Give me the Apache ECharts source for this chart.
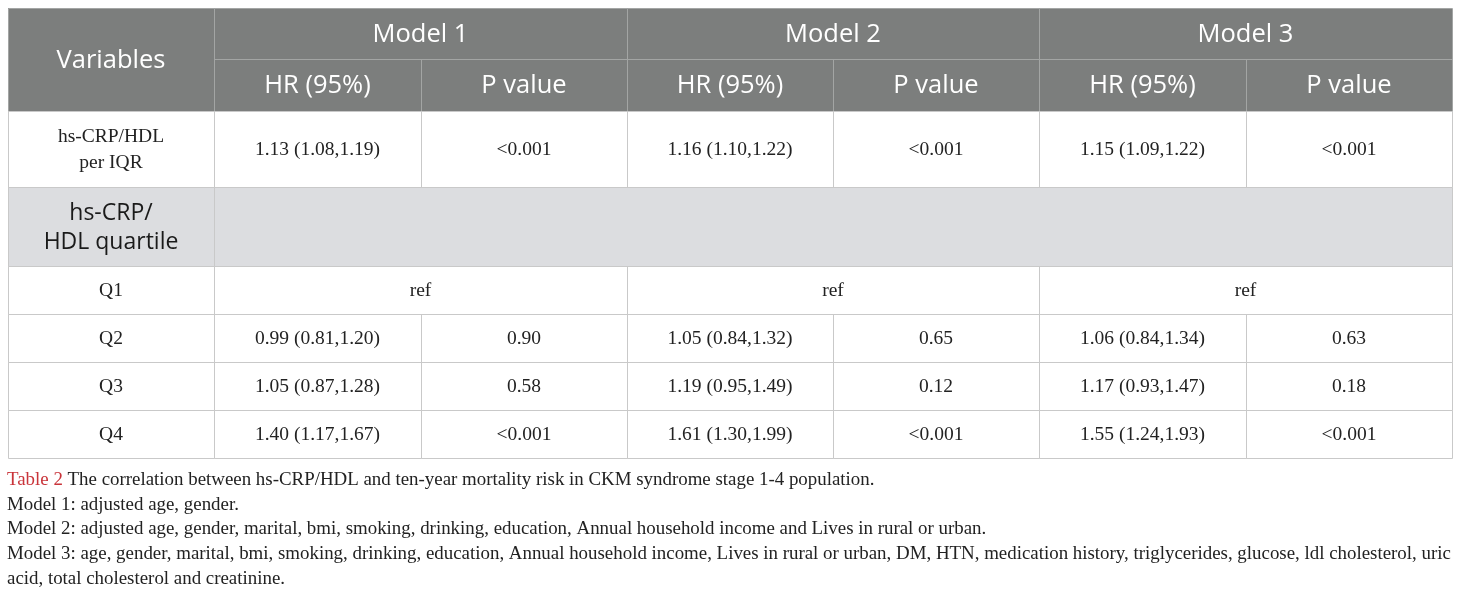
<!DOCTYPE html>
<html>
<head>
<meta charset="utf-8">
<script src="https://cdn.jsdelivr.net/npm/echarts@6/dist/echarts.min.js"></script>
<style>
html,body{margin:0;padding:0;background:#fff;}
#chart{width:1460px;height:593px;}
</style>
</head>
<body>
<div id="chart"></div>
<script>
// ---------- data ----------
const variableHeader = 'Variables';
const modelNames = ['Model 1', 'Model 2', 'Model 3'];
const statHeaders = ['HR (95%)', 'P value'];
const continuousLabel = 'hs-CRP/HDL\nper IQR';
const continuousHR = ['1.13 (1.08,1.19)', '1.16 (1.10,1.22)', '1.15 (1.09,1.22)'];
const continuousP = ['<0.001', '<0.001', '<0.001'];
const quartileSection = 'hs-CRP/\nHDL quartile';
const quartileLabels = ['Q1', 'Q2', 'Q3', 'Q4'];
const referenceLabel = 'ref';
const model1HR = ['0.99 (0.81,1.20)', '1.05 (0.87,1.28)', '1.40 (1.17,1.67)'];
const model1P = ['0.90', '0.58', '<0.001'];
const model2HR = ['1.05 (0.84,1.32)', '1.19 (0.95,1.49)', '1.61 (1.30,1.99)'];
const model2P = ['0.65', '0.12', '<0.001'];
const model3HR = ['1.06 (0.84,1.34)', '1.17 (0.93,1.47)', '1.55 (1.24,1.93)'];
const model3P = ['0.63', '0.18', '<0.001'];
const captionLabel = 'Table 2';
const captionLines = [
  ' The correlation between hs-CRP/HDL and ten-year mortality risk in CKM syndrome stage 1-4 population.',
  'Model 1: adjusted age, gender.',
  'Model 2: adjusted age, gender, marital, bmi, smoking, drinking, education, Annual household income and Lives in rural or urban.',
  'Model 3: age, gender, marital, bmi, smoking, drinking, education, Annual household income, Lives in rural or urban, DM, HTN, medication history, triglycerides, glucose, ldl cholesterol, uric',
  'acid, total cholesterol and creatinine.'
];

// ---------- layout ----------
const rowHeights = [51, 52, 76, 79, 48, 48, 48, 48];
const rowEdges = [0];
rowHeights.forEach(h => rowEdges.push(rowEdges[rowEdges.length - 1] + h));
const totalHeight = rowEdges[rowEdges.length - 1];

const HEAD_BG = '#7c7e7d';
const HEAD_LINE = '#a3a5a4';
const BODY_LINE = '#c9c9c9';
const SECTION_BG = '#dcdde0';
const SANS = '"Open Sans", sans-serif';
const SERIF = '"Liberation Serif", serif';

const cells = [];
function addCell(c0, c1, r0, r1, text, kind) {
  cells.push({ value: [c0, c1, rowEdges[r0], rowEdges[r1]], text: text, kind: kind });
}
const modelHR = [model1HR, model2HR, model3HR];
const modelP = [model1P, model2P, model3P];

addCell(0, 1, 0, 2, variableHeader, 'head');
modelNames.forEach((m, i) => {
  addCell(1 + 2 * i, 3 + 2 * i, 0, 1, m, 'head');
  addCell(1 + 2 * i, 2 + 2 * i, 1, 2, statHeaders[0], 'head');
  addCell(2 + 2 * i, 3 + 2 * i, 1, 2, statHeaders[1], 'head');
});
addCell(0, 1, 2, 3, continuousLabel, 'body');
modelNames.forEach((m, i) => {
  addCell(1 + 2 * i, 2 + 2 * i, 2, 3, continuousHR[i], 'body');
  addCell(2 + 2 * i, 3 + 2 * i, 2, 3, continuousP[i], 'body');
});
addCell(0, 1, 3, 4, quartileSection, 'section');
addCell(1, 7, 3, 4, '', 'section');
quartileLabels.forEach((q, r) => {
  addCell(0, 1, 4 + r, 5 + r, q, 'body');
  modelNames.forEach((m, i) => {
    if (r === 0) {
      addCell(1 + 2 * i, 3 + 2 * i, 4, 5, referenceLabel, 'body');
    } else {
      addCell(1 + 2 * i, 2 + 2 * i, 4 + r, 5 + r, modelHR[i][r - 1], 'body');
      addCell(2 + 2 * i, 3 + 2 * i, 4 + r, 5 + r, modelP[i][r - 1], 'body');
    }
  });
});

function cellBox(api) {
  const p0 = api.coord([api.value(0), api.value(2)]);
  const p1 = api.coord([api.value(1), api.value(3)]);
  return { x0: Math.round(p0[0]), y0: Math.round(p0[1]), x1: Math.round(p1[0]), y1: Math.round(p1[1]) };
}

function renderFill(params, api) {
  const c = cells[params.dataIndex];
  const b = cellBox(api);
  const fill = c.kind === 'head' ? HEAD_BG : (c.kind === 'section' ? SECTION_BG : '#ffffff');
  let font, color, lh;
  if (c.kind === 'head') { font = '25.5px ' + SANS; color = '#ffffff'; lh = 30; }
  else if (c.kind === 'section') { font = '23px ' + SANS; color = '#1a1a1a'; lh = 29; }
  else { font = '19.5px ' + SERIF; color = '#222222'; lh = 26; }
  return {
    type: 'group',
    children: [
      { type: 'rect', shape: { x: b.x0, y: b.y0, width: b.x1 - b.x0, height: b.y1 - b.y0 }, style: { fill: fill } },
      { type: 'text', style: { text: c.text, x: (b.x0 + b.x1) / 2, y: (b.y0 + b.y1) / 2 + 1, align: 'center', verticalAlign: 'middle', font: font, fill: color, lineHeight: lh } }
    ]
  };
}

function renderBorder(params, api) {
  const c = cells[params.dataIndex];
  const b = cellBox(api);
  return {
    type: 'rect',
    shape: { x: b.x0 + 0.5, y: b.y0 + 0.5, width: b.x1 - b.x0, height: b.y1 - b.y0 },
    style: { fill: 'none', stroke: c.kind === 'head' ? HEAD_LINE : BODY_LINE, lineWidth: 1 }
  };
}

const titles = captionLines.map((line, i) => ({
  left: 7,
  top: 468 + i * 24.7,
  padding: 0,
  text: i === 0 ? '{red|' + captionLabel + '}' + line : line,
  textStyle: {
    fontFamily: SERIF, fontSize: 18.9, fontWeight: 'normal', color: '#222222', lineHeight: 24,
    rich: { red: { color: '#c9343a', fontFamily: SERIF, fontSize: 18.9, lineHeight: 24 } }
  }
}));

const chart = echarts.init(document.getElementById('chart'));
chart.setOption({
  animation: false,
  title: titles,
  grid: { left: 8, top: 8, width: 1444, height: totalHeight },
  xAxis: { type: 'value', min: 0, max: 7, show: false },
  yAxis: { type: 'value', min: 0, max: totalHeight, inverse: true, show: false },
  series: [
    { type: 'custom', renderItem: renderFill, data: cells, encode: { x: [0, 1], y: [2, 3] }, z: 1, silent: true },
    { type: 'custom', renderItem: renderBorder, data: cells.filter(() => true), encode: { x: [0, 1], y: [2, 3] }, z: 2, silent: true }
  ]
});
</script>
</body>
</html>
